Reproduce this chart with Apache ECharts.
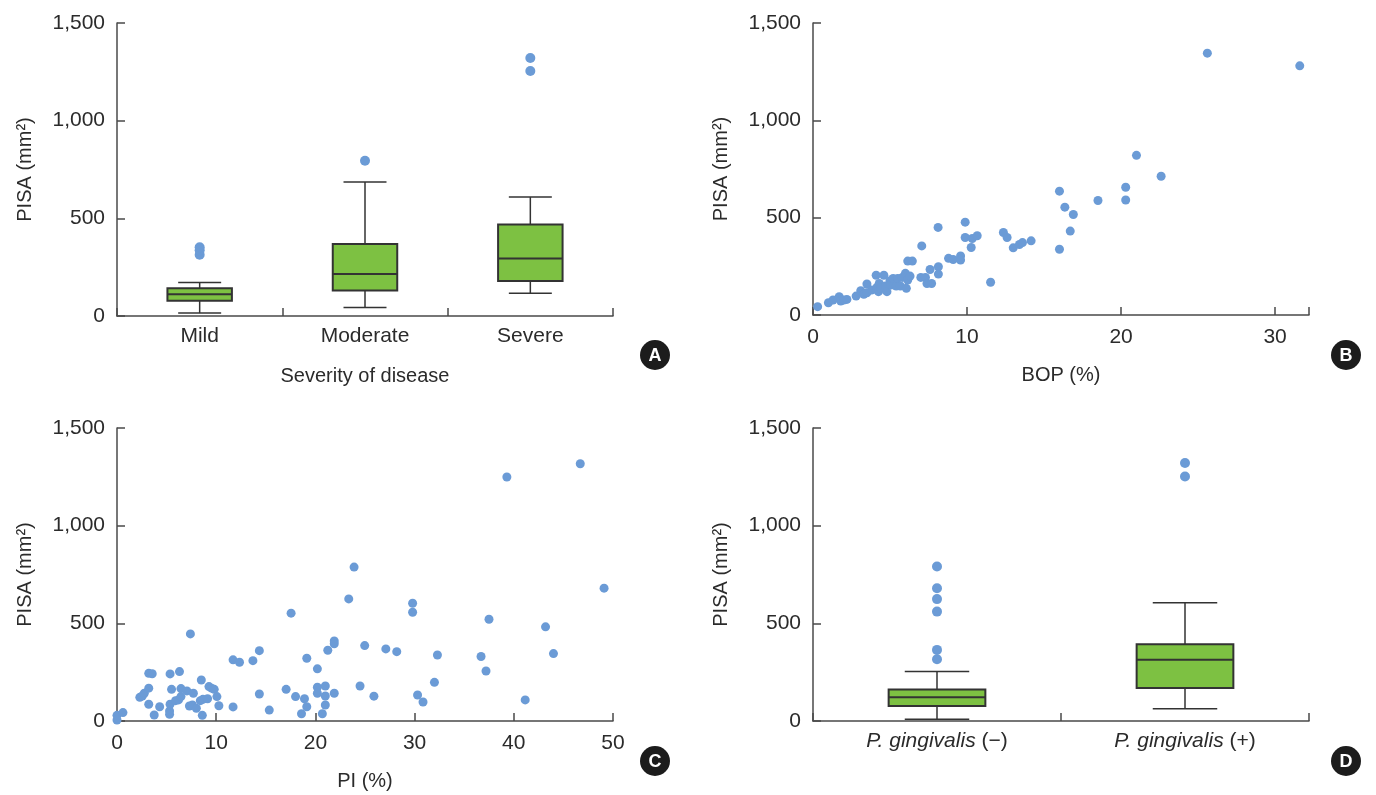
<!DOCTYPE html>
<html lang="en">
  <head>
    <meta charset="utf-8" />
    <title>PISA</title>
    <style>
      * {
        margin: 0;
        padding: 0;
      }
      #chart-container {
        position: relative;
        height: 100vh;
        width: 100vw;
        overflow: hidden;
        background: #fff;
      }
    </style>
  </head>
  <body>
    <div id="chart-container"></div>
    <script src="https://fastly.jsdelivr.net/npm/echarts@6/dist/echarts.min.js"></script>
    <script>
      // A: severity of disease (min, Q1, median, Q3, max)
      const severityCats = ["Mild", "Moderate", "Severe"];
      const severityBox = [
        [15, 78, 111, 142, 171],
        [44, 130, 215, 369, 686],
        [116, 179, 294, 469, 609],
      ];
      const severityOutliers = [
        [0, 314], [0, 336], [0, 352],
        [1, 795],
        [2, 1254], [2, 1321],
      ];

      // B: BOP (%) vs PISA
      const bopPoints = [
        [0.3, 43], [1.0, 63], [1.3, 77], [1.7, 94], [1.8, 72], [2.0, 77], [2.2, 80],
        [2.8, 97], [3.1, 125], [3.3, 106], [3.5, 159], [3.5, 114], [3.8, 128],
        [4.1, 204], [4.15, 142], [4.25, 120], [4.3, 162], [4.4, 137], [4.6, 204],
        [4.7, 149], [4.8, 120], [5.0, 176], [5.06, 154], [5.2, 188], [5.4, 149],
        [5.5, 188], [5.67, 149], [5.8, 193], [6.0, 214], [6.06, 137], [6.15, 180],
        [6.3, 200], [6.15, 277], [6.45, 277], [7.06, 355], [7.0, 193], [7.3, 193],
        [7.4, 162], [7.7, 162], [7.6, 234], [8.14, 248], [8.14, 210], [8.12, 450],
        [8.8, 291], [9.1, 285], [9.58, 303], [9.58, 282], [9.88, 477], [9.88, 398],
        [10.27, 347], [10.34, 393], [10.66, 407], [11.53, 168], [12.36, 424],
        [12.6, 398], [13.0, 345], [13.4, 362], [13.6, 372], [14.16, 381],
        [16.0, 338], [16.0, 636], [16.35, 554], [16.9, 516], [16.7, 431],
        [18.5, 588], [20.3, 656], [20.3, 591], [21.0, 820], [22.6, 713],
        [25.6, 1345], [31.6, 1280],
      ];

      // C: PI (%) vs PISA
      const piPoints = [
        [0, 29], [0, 5], [0.6, 43], [2.3, 121], [2.55, 128], [2.75, 142], [3.2, 168],
        [3.2, 86], [3.2, 244], [3.55, 242], [3.75, 31], [4.3, 73], [5.3, 51],
        [5.3, 34], [5.35, 86], [5.35, 241], [5.5, 162], [5.9, 104], [6.2, 108],
        [6.3, 253], [6.45, 125], [6.45, 166], [7.05, 154], [7.4, 446], [7.3, 77],
        [7.6, 82], [7.7, 142], [8.0, 65], [8.4, 104], [8.5, 210], [8.6, 29],
        [8.66, 111], [9.13, 114], [9.27, 176], [9.53, 168], [9.8, 162], [10.07, 125],
        [10.27, 78], [11.7, 313], [12.35, 301], [11.7, 72], [13.7, 309], [14.35, 360],
        [14.35, 138], [15.35, 56],
        [17.55, 552], [17.05, 162], [18.0, 125], [18.9, 114], [18.6, 37], [19.13, 73],
        [19.13, 321], [20.2, 267], [20.2, 173], [20.2, 142], [21.0, 179], [21.0, 128],
        [21.0, 82], [20.7, 37], [21.9, 142], [21.25, 362], [21.9, 410], [21.9, 395],
        [23.36, 625], [23.9, 788], [24.5, 179], [24.97, 386], [25.9, 127], [27.1, 369],
        [28.2, 355], [29.8, 603], [29.8, 557], [30.3, 133], [30.85, 97], [32.0, 198],
        [32.3, 338],
        [36.7, 330], [37.2, 256], [37.5, 521], [39.3, 1249], [41.15, 108], [43.2, 482],
        [44.0, 345], [46.7, 1317], [49.1, 680],
      ];

      // D: P. gingivalis (min, Q1, median, Q3, max)
      const pgCats = ["neg", "pos"];
      const pgBox = [
        [9, 77, 121, 161, 253],
        [63, 169, 314, 393, 605],
      ];
      const pgOutliers = [
        [0, 316], [0, 364], [0, 560], [0, 624], [0, 680], [0, 791],
        [1, 1252], [1, 1321],
      ];

      const pisaTicks = [0, 500, 1000, 1500];
      const panelLetters = ["A", "B", "C", "D"];

      const FONT = "Liberation Sans, Arial, sans-serif";
      const TEXT = "#2b2b2b";
      const AXIS = "#4a4a4a";
      const DOT = "#6b9bd6";
      const GREEN = "#7dc142";

      var dom = document.getElementById("chart-container");
      var myChart = echarts.init(dom, null, { renderer: "canvas" });

      function yAxisFor(grid) {
        return {
          gridIndex: grid,
          type: "value",
          min: pisaTicks[0],
          max: pisaTicks[pisaTicks.length - 1],
          interval: 500,
          splitLine: { show: false },
          axisLine: { show: true, lineStyle: { color: AXIS, width: 1.5 } },
          axisTick: { show: true, inside: true, length: 8, lineStyle: { color: AXIS, width: 1.5 } },
          axisLabel: {
            fontSize: 21,
            color: TEXT,
            fontFamily: FONT,
            margin: 12,
            formatter: (v) => v.toLocaleString("en-US"),
          },
          name: "PISA (mm²)",
          nameLocation: "middle",
          nameRotate: 90,
          nameGap: 82,
          nameTextStyle: { fontSize: 20, color: TEXT, fontFamily: FONT },
        };
      }

      function catAxis(grid, cats, name, rich) {
        return {
          gridIndex: grid,
          type: "category",
          data: cats,
          boundaryGap: true,
          axisLine: { lineStyle: { color: AXIS, width: 1.5 } },
          axisTick: { show: true, inside: true, length: 8, lineStyle: { color: AXIS, width: 1.5 } },
          axisLabel: Object.assign(
            { fontSize: 21, color: TEXT, fontFamily: FONT, margin: 10, interval: 0 },
            rich || {}
          ),
          name: name,
          nameLocation: "middle",
          nameGap: 50,
          nameTextStyle: { fontSize: 20, color: TEXT, fontFamily: FONT },
        };
      }

      function valAxis(grid, max, name) {
        return {
          gridIndex: grid,
          type: "value",
          min: 0,
          max: max,
          interval: 10,
          splitLine: { show: false },
          axisLine: { show: true, lineStyle: { color: AXIS, width: 1.5 } },
          axisTick: { show: true, inside: true, length: 8, lineStyle: { color: AXIS, width: 1.5 } },
          axisLabel: {
            fontSize: 21,
            color: TEXT,
            fontFamily: FONT,
            margin: 12,
            formatter: (v) => (v % 10 === 0 ? String(v) : ""),
          },
          name: name,
          nameLocation: "middle",
          nameGap: 50,
          nameTextStyle: { fontSize: 20, color: TEXT, fontFamily: FONT },
        };
      }

      function boxRender(params, api) {
        const idx = api.value(0);
        const band = api.size([1, 0])[0];
        const bw = band * 0.39;
        const cw = band * 0.26;
        const pMin = api.coord([idx, api.value(1)]);
        const pQ1 = api.coord([idx, api.value(2)]);
        const pMed = api.coord([idx, api.value(3)]);
        const pQ3 = api.coord([idx, api.value(4)]);
        const pMax = api.coord([idx, api.value(5)]);
        const x = pMed[0];
        const ls = { stroke: "#333", lineWidth: 1.5 };
        return {
          type: "group",
          children: [
            { type: "line", shape: { x1: x, y1: pMin[1], x2: x, y2: pQ1[1] }, style: ls },
            { type: "line", shape: { x1: x, y1: pQ3[1], x2: x, y2: pMax[1] }, style: ls },
            { type: "line", shape: { x1: x - cw / 2, y1: pMin[1], x2: x + cw / 2, y2: pMin[1] }, style: ls },
            { type: "line", shape: { x1: x - cw / 2, y1: pMax[1], x2: x + cw / 2, y2: pMax[1] }, style: ls },
            {
              type: "rect",
              shape: { x: x - bw / 2, y: pQ3[1], width: bw, height: pQ1[1] - pQ3[1] },
              style: { fill: GREEN, stroke: "#333", lineWidth: 2 },
            },
            { type: "line", shape: { x1: x - bw / 2, y1: pMed[1], x2: x + bw / 2, y2: pMed[1] }, style: { stroke: "#333", lineWidth: 2 } },
          ],
        };
      }

      const boxData = (rows) => rows.map((r, i) => [i].concat(r));

      const letterPos = [
        [655, 355],
        [1346, 355],
        [655, 761],
        [1346, 761],
      ];
      const graphic = [];
      panelLetters.forEach((l, i) => {
        graphic.push({
          type: "circle",
          shape: { cx: letterPos[i][0], cy: letterPos[i][1], r: 15 },
          style: { fill: "#1c1c1c" },
        });
        graphic.push({
          type: "text",
          x: letterPos[i][0],
          y: letterPos[i][1] + 1,
          style: {
            text: l,
            fill: "#fff",
            font: "bold 18px " + FONT,
            align: "center",
            verticalAlign: "middle",
          },
        });
      });

      var option = {
        animation: false,
        textStyle: { fontFamily: FONT },
        grid: [
          { left: 117, top: 23, width: 496, height: 293, outerBoundsMode: "none" },
          { left: 813, top: 23, width: 496, height: 292, outerBoundsMode: "none" },
          { left: 117, top: 428, width: 496, height: 293, outerBoundsMode: "none" },
          { left: 813, top: 428, width: 496, height: 293, outerBoundsMode: "none" },
        ],
        xAxis: [
          catAxis(0, severityCats, "Severity of disease"),
          valAxis(1, 32.2, "BOP (%)"),
          valAxis(2, 50, "PI (%)"),
          catAxis(3, pgCats, "", {
            formatter: (v) => (v === "neg" ? "{i|P. gingivalis} (−)" : "{i|P. gingivalis} (+)"),
            rich: {
              i: { fontStyle: "italic", fontSize: 21, color: TEXT, fontFamily: FONT },
            },
          }),
        ],
        yAxis: [yAxisFor(0), yAxisFor(1), yAxisFor(2), yAxisFor(3)],
        graphic: graphic,
        series: [
          {
            type: "custom",
            xAxisIndex: 0,
            yAxisIndex: 0,
            renderItem: boxRender,
            encode: { x: 0, y: [1, 2, 3, 4, 5] },
            data: boxData(severityBox),
            z: 2,
          },
          {
            type: "scatter",
            xAxisIndex: 0,
            yAxisIndex: 0,
            symbolSize: 10,
            itemStyle: { color: DOT, opacity: 1 },
            data: severityOutliers,
            z: 3,
          },
          {
            type: "scatter",
            xAxisIndex: 1,
            yAxisIndex: 1,
            symbolSize: 9,
            clip: false,
            itemStyle: { color: DOT, opacity: 1 },
            data: bopPoints,
          },
          {
            type: "scatter",
            xAxisIndex: 2,
            yAxisIndex: 2,
            symbolSize: 9,
            clip: false,
            itemStyle: { color: DOT, opacity: 1 },
            data: piPoints,
          },
          {
            type: "custom",
            xAxisIndex: 3,
            yAxisIndex: 3,
            renderItem: boxRender,
            encode: { x: 0, y: [1, 2, 3, 4, 5] },
            data: boxData(pgBox),
            z: 2,
          },
          {
            type: "scatter",
            xAxisIndex: 3,
            yAxisIndex: 3,
            symbolSize: 10,
            itemStyle: { color: DOT, opacity: 1 },
            data: pgOutliers,
            z: 3,
          },
        ],
      };

      myChart.setOption(option);
      window.addEventListener("resize", myChart.resize);
    </script>
  </body>
</html>
